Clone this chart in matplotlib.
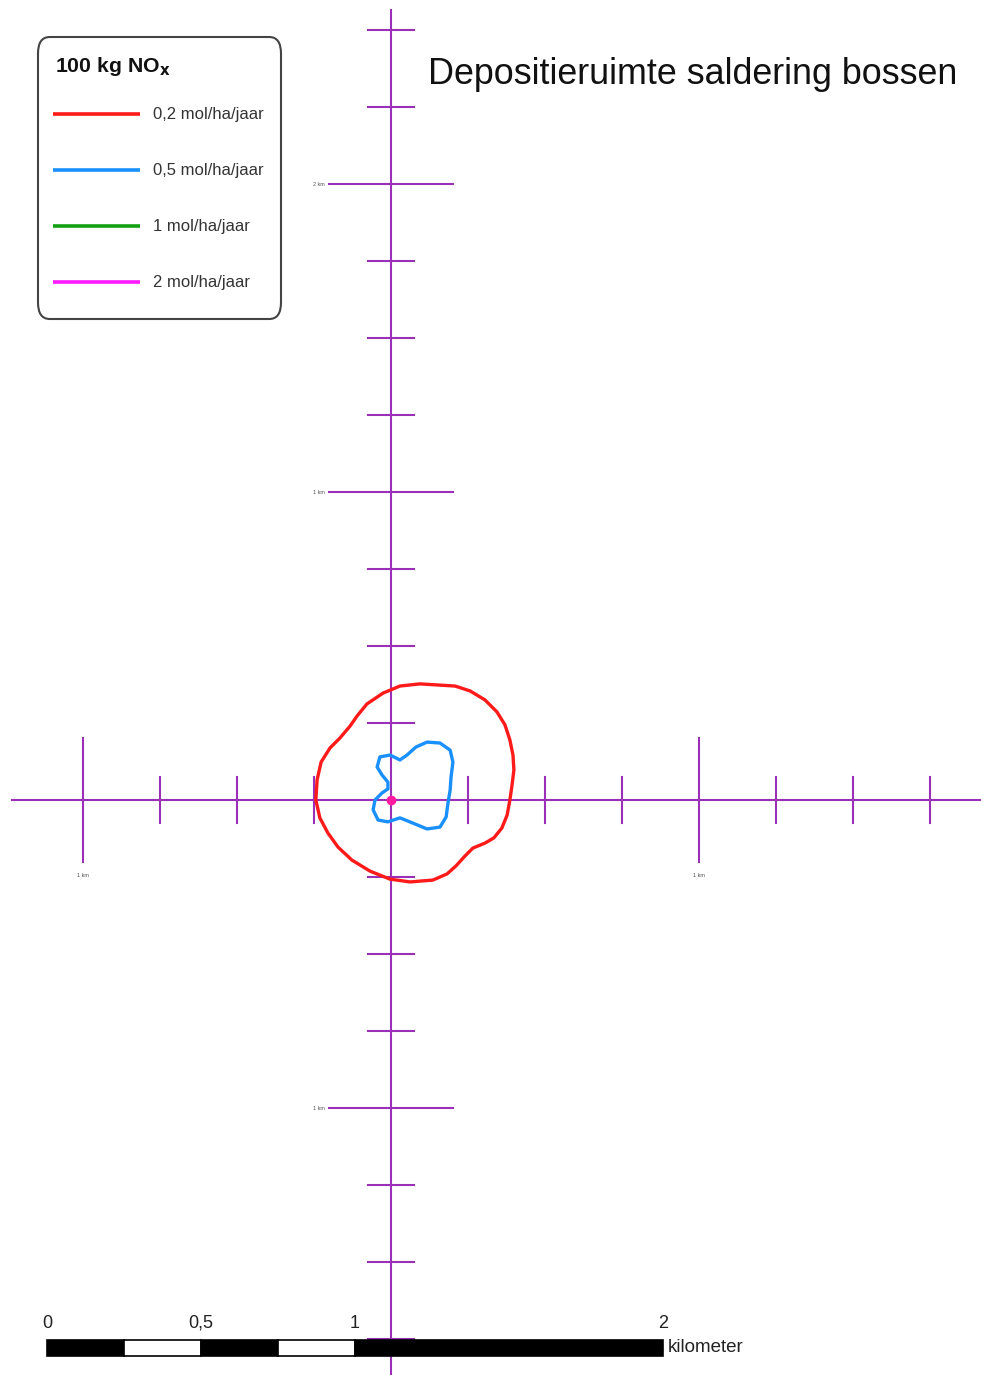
import matplotlib.pyplot as plt
from matplotlib.patches import FancyBboxPatch, Rectangle
import numpy as np

plt.rcParams['font.family'] = ['Liberation Sans', 'DejaVu Sans']

# contours, metres relative to the source point
red_x = [29, 94, 159, 208, 257, 305, 344, 370, 386, 396, 399, 393, 386, 377, 360, 334,
         305, 266, 240, 211, 182, 136, 62, -3, -68, -127, -172, -205, -231, -244, -240,
         -227, -198, -166, -133, -110, -78, -26]
red_y = [370, 377, 373, 370, 354, 325, 286, 244, 195, 146, 97, 49, 0, -49, -91, -123,
         -140, -156, -182, -214, -240, -260, -266, -257, -231, -195, -153, -107, -58, 0,
         65, 123, 169, 201, 240, 273, 312, 347]
blue_x = [-3, 29, 52, 81, 117, 159, 192, 201, 195, 192, 185, 179, 159, 117, 71, 29, -10,
          -42, -58, -52, -29, -10, -10, -29, -45, -36]
blue_y = [146, 130, 146, 172, 188, 185, 162, 123, 75, 32, -10, -55, -88, -94, -75, -58,
          -71, -65, -32, 0, 23, 36, 58, 81, 107, 140]

legend_labels = ['0,2 mol/ha/jaar', '0,5 mol/ha/jaar', '1 mol/ha/jaar', '2 mol/ha/jaar']
legend_colors = ['#ff1a1a', '#1a90ff', '#12a012', '#ff1aff']

scale_labels = ['0', '0,5', '1', '2']
scale_values = [0, 0.5, 1, 2]

axis_color = '#9b30b8'
px = 1 / 308.0  # km per pixel

fig = plt.figure(figsize=(9.81, 13.75), dpi=100)
ax = fig.add_axes([0, 0, 1, 1])
ax.set_xlim(-391 * px, 590 * px)
ax.set_ylim(-575 * px, 800 * px)
ax.set_aspect('equal')
ax.axis('off')

# cross-hair axes
ax.plot([-379 * px, 590 * px], [0, 0], color=axis_color, lw=1.5, zorder=1)
ax.plot([0, 0], [-575 * px, 790 * px], color=axis_color, lw=1.5, zorder=1)

# ticks on the horizontal axis
for t in np.arange(-1.0, 1.76, 0.25):
    if abs(t) < 1e-6:
        continue
    major = abs(round(t) - t) < 1e-6
    h = 0.2 if major else 0.075
    ax.plot([t, t], [-h, h], color=axis_color, lw=1.5, zorder=1)
    if major:
        ax.text(t, -0.245, '1 km', fontsize=4, color='#555555', ha='center', va='center')

# ticks on the vertical axis
for t in np.arange(-1.75, 2.51, 0.25):
    if abs(t) < 1e-6:
        continue
    major = abs(round(t) - t) < 1e-6
    h = 0.2 if major else 0.075
    ax.plot([-h, h], [t, t], color=axis_color, lw=1.5, zorder=1)
    if major:
        ax.text(-0.215, t, '%d km' % abs(round(t)), fontsize=4, color='#555555',
                ha='right', va='center')

# contours
ax.fill(np.array(red_x) / 1000, np.array(red_y) / 1000, fill=False,
        edgecolor=legend_colors[0], lw=2.4, joinstyle='round', zorder=3)
ax.fill(np.array(blue_x) / 1000, np.array(blue_y) / 1000, fill=False,
        edgecolor=legend_colors[1], lw=2.4, joinstyle='round', zorder=3)
ax.plot([0], [0], 'o', color='#ff1aa0', ms=6, zorder=4)

# title
fig.text(428 / 981, 1 - 75 / 1375, 'Depositieruimte saldering bossen', fontsize=25.8,
         ha='left', va='center', color='#111111')

# legend box
box = FancyBboxPatch((38 / 981, 1 - 319 / 1375), 243 / 981, 282 / 1375,
                     boxstyle='round,pad=0,rounding_size=0.012', transform=fig.transFigure,
                     facecolor='white', edgecolor='#444444', lw=1.5, zorder=5)
fig.patches.append(box)
fig.text(55 / 981, 1 - 67 / 1375, '100 kg NO$_\\mathbf{x}$', fontsize=15.3,
         fontweight='bold', ha='left', va='center', color='#111111', zorder=6)
for i, (lab, col) in enumerate(zip(legend_labels, legend_colors)):
    y = 1 - (114 + 56 * i) / 1375
    fig.add_artist(plt.Line2D([53 / 981, 140 / 981], [y, y], color=col, lw=2.6,
                              solid_capstyle='butt', transform=fig.transFigure, zorder=6))
    fig.text(153 / 981, y, lab, fontsize=12, ha='left', va='center', color='#333333',
             zorder=6)

# scale bar
x0 = -344 * px
y0 = -556 * px
hgt = 16 * px
segs = [(0, 0.25, 'black'), (0.25, 0.25, 'white'), (0.5, 0.25, 'black'),
        (0.75, 0.25, 'white'), (1.0, 1.0, 'black')]
for s, w, c in segs:
    ax.add_patch(Rectangle((x0 + s, y0), w, hgt, facecolor=c, edgecolor='black',
                           lw=1.2, zorder=5))
for lab, v in zip(scale_labels, scale_values):
    ax.text(x0 + v, y0 + hgt + 8 * px, lab, fontsize=13, ha='center', va='bottom',
            color='#222222')
ax.text(x0 + 2.0 + 5 * px, y0 + hgt / 2, 'kilometer', fontsize=13.5, ha='left',
        va='center', color='#222222')

fig.savefig('out.png', dpi=100)
